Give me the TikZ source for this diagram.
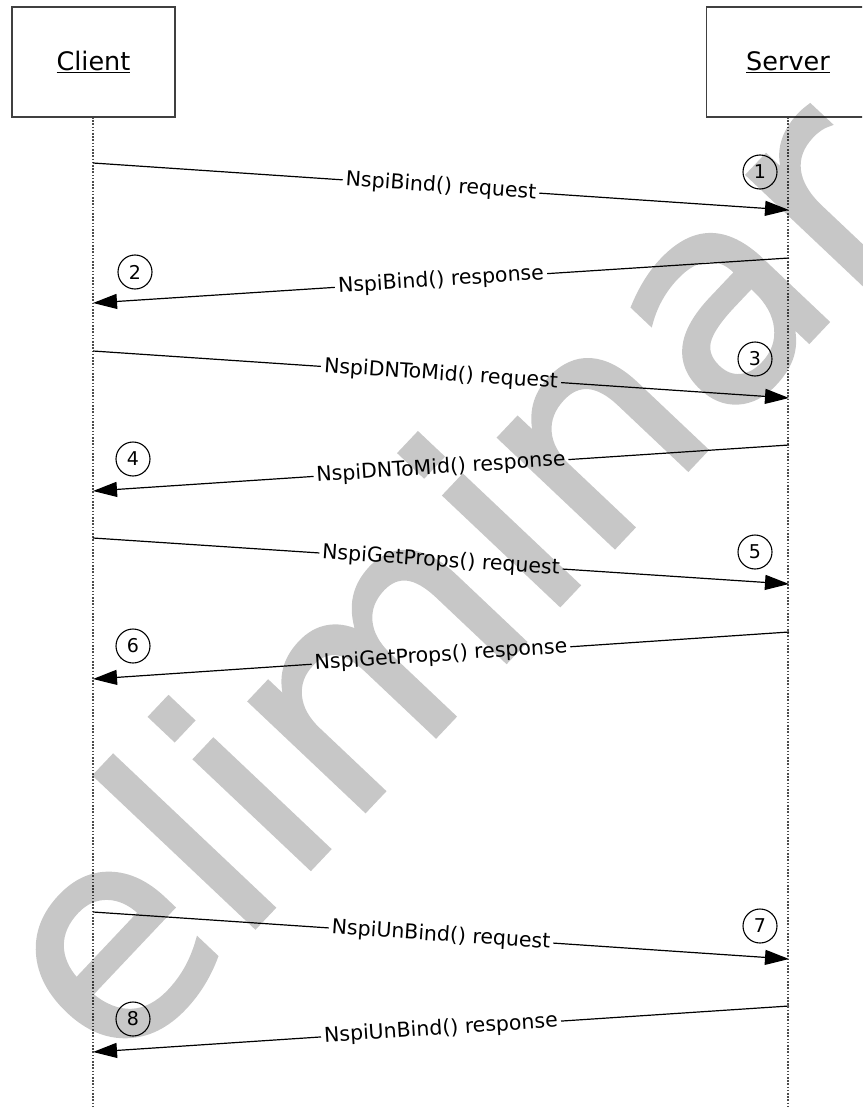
\documentclass[tikz,border=0pt]{standalone}
\usepackage{fontspec}
\setmainfont{DejaVu Sans}
\newfontfamily\wmfont[FakeBold=1.5]{DejaVu Sans}
\usetikzlibrary{arrows.meta}
\tikzset{
  actor/.style={draw=black!75, line width=1.6pt, fill=white, minimum width=163pt, minimum height=110pt, inner sep=0pt, font=\fontsize{25.5}{30}\selectfont},
  life/.style={draw=black!70, line width=1.8pt, dash pattern=on 1.6pt off 1.6pt},
  msg/.style={draw=black, line width=1.2pt, -{Triangle[length=24pt,width=15pt]}},
  lbl/.style={midway, sloped, fill=white, inner sep=3pt, font=\fontsize{20.5}{23}\selectfont},
  num/.style={draw=black, circle, line width=1.1pt, minimum size=34pt, inner sep=0pt, font=\fontsize{19}{21}\selectfont},
  wm/.style={text=black, inner sep=0pt, font=\wmfont\fontsize{290}{290}\selectfont}
}
\begin{document}
\begin{tikzpicture}[x=1pt,y=-1pt]
\useasboundingbox (0,0) rectangle (862,1107);
\clip (0,0) rectangle (862,1107);
% lifelines
\coordinate (ctop) at (93,117);
\coordinate (cbot) at (93,1107);
\coordinate (stop) at (788,117);
\coordinate (sbot) at (788,1107);
\draw[life] (ctop) -- (cbot);
\draw[life] (stop) -- (sbot);
% actors
\node[actor] (client) at (93.5,62) {\underline{Client}};
\node[actor] (server) at (788,62) {\underline{Server}};
% message end points
\coordinate (c1) at (93,163);  \coordinate (s1) at (789,210);
\coordinate (s2) at (789,258); \coordinate (c2) at (93,303);
\coordinate (c3) at (93,351);  \coordinate (s3) at (789,398);
\coordinate (s4) at (789,445); \coordinate (c4) at (93,491);
\coordinate (c5) at (93,538);  \coordinate (s5) at (789,584);
\coordinate (s6) at (789,632); \coordinate (c6) at (93,679);
\coordinate (c7) at (93,912);  \coordinate (s7) at (789,959);
\coordinate (s8) at (789,1006);\coordinate (c8) at (93,1052);
% messages
\draw[msg] (c1) -- node[lbl] (l1) {NspiBind() request} (s1);
\draw[msg] (s2) -- node[lbl] (l2) {NspiBind() response} (c2);
\draw[msg] (c3) -- node[lbl] (l3) {NspiDNToMid() request} (s3);
\draw[msg] (s4) -- node[lbl] (l4) {NspiDNToMid() response} (c4);
\draw[msg] (c5) -- node[lbl] (l5) {NspiGetProps() request} (s5);
\draw[msg] (s6) -- node[lbl] (l6) {NspiGetProps() response} (c6);
\draw[msg] (c7) -- node[lbl] (l7) {NspiUnBind() request} (s7);
\draw[msg] (s8) -- node[lbl] (l8) {NspiUnBind() response} (c8);
% step numbers
\node[num] (n1) at (760,172) {1};
\node[num] (n2) at (135,272) {2};
\node[num] (n3) at (755,359) {3};
\node[num] (n4) at (133,459) {4};
\node[num] (n5) at (755,552) {5};
\node[num] (n6) at (133,646) {6};
\node[num] (n7) at (760,926) {7};
\node[num] (n8) at (133,1019) {8};
% watermark
\begin{scope}[transparency group, opacity=0.22]
\node[wm, rotate=46.6] (wmark) at (442,572) {eliminar};
\end{scope}
\end{tikzpicture}
\end{document}
